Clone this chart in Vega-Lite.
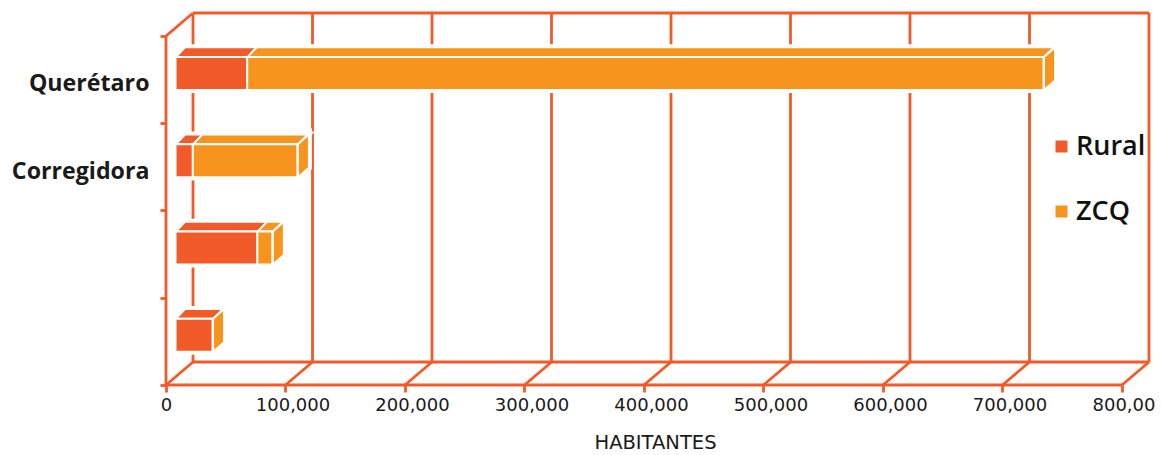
{
"$schema":"https://vega.github.io/schema/vega-lite/v6.json",
"width":983,"height":372,
"autosize":{"type":"none"},
"padding":{"left":166,"top":13,"right":12,"bottom":70},
"background":"white",
"config":{"view":{"stroke":null},"font":"DejaVu Sans"},
"datasets":{
"frame":[
{"id":"ejeY","x":0,"y":0},{"id":"ejeY","x":0,"y":4},
{"id":"suelo","x":0,"y":0},{"id":"suelo","x":800000,"y":0},
{"id":"sueloFondo","x":22600,"y":0.2636},{"id":"sueloFondo","x":822600,"y":0.2636},
{"id":"techo","x":0,"y":4},{"id":"techo","x":22600,"y":4.2636},{"id":"techo2","x":22600,"y":4.2636},{"id":"techo2","x":822600,"y":4.2636},
{"id":"d0","x":0,"y":0},{"id":"d0","x":22600,"y":0.2636},
{"id":"d1","x":100000,"y":0},{"id":"d1","x":122600,"y":0.2636},
{"id":"d2","x":200000,"y":0},{"id":"d2","x":222600,"y":0.2636},
{"id":"d3","x":300000,"y":0},{"id":"d3","x":322600,"y":0.2636},
{"id":"d4","x":400000,"y":0},{"id":"d4","x":422600,"y":0.2636},
{"id":"d5","x":500000,"y":0},{"id":"d5","x":522600,"y":0.2636},
{"id":"d6","x":600000,"y":0},{"id":"d6","x":622600,"y":0.2636},
{"id":"d7","x":700000,"y":0},{"id":"d7","x":722600,"y":0.2636},
{"id":"d8","x":800000,"y":0},{"id":"d8","x":822600,"y":0.2636},
{"id":"g0","x":22600,"y":0.2636},{"id":"g0","x":22600,"y":4.2636},
{"id":"g1","x":122600,"y":0.2636},{"id":"g1","x":122600,"y":4.2636},
{"id":"g2","x":222600,"y":0.2636},{"id":"g2","x":222600,"y":4.2636},
{"id":"g3","x":322600,"y":0.2636},{"id":"g3","x":322600,"y":4.2636},
{"id":"g4","x":422600,"y":0.2636},{"id":"g4","x":422600,"y":4.2636},
{"id":"g5","x":522600,"y":0.2636},{"id":"g5","x":522600,"y":4.2636},
{"id":"g6","x":622600,"y":0.2636},{"id":"g6","x":622600,"y":4.2636},
{"id":"g7","x":722600,"y":0.2636},{"id":"g7","x":722600,"y":4.2636},
{"id":"g8","x":822600,"y":0.2636},{"id":"g8","x":822600,"y":4.2636}
],
"bars":[
{"municipio":"Querétaro","serie":"Rural","inicio":0,"fin":60000,"base":3.38,"alto":3.76},
{"municipio":"Querétaro","serie":"ZCQ","inicio":60000,"fin":726400,"base":3.38,"alto":3.76},
{"municipio":"Corregidora","serie":"Rural","inicio":0,"fin":14500,"base":2.38,"alto":2.76},
{"municipio":"Corregidora","serie":"ZCQ","inicio":14500,"fin":102000,"base":2.38,"alto":2.76},
{"municipio":"Tercero","serie":"Rural","inicio":0,"fin":68500,"base":1.38,"alto":1.76},
{"municipio":"Tercero","serie":"ZCQ","inicio":68500,"fin":81000,"base":1.38,"alto":1.76},
{"municipio":"Cuarto","serie":"Rural","inicio":0,"fin":31000,"base":0.38,"alto":0.76}
],
"tops":[
{"id":"q-r","serie":"Rural","a":8368,"b":68368,"y":3.76},{"id":"q-r","serie":"Rural","a":15900,"b":75900,"y":3.87},
{"id":"q-z","serie":"ZCQ","a":68368,"b":734768,"y":3.76},{"id":"q-z","serie":"ZCQ","a":75900,"b":743000,"y":3.87},
{"id":"c-r","serie":"Rural","a":8368,"b":22868,"y":2.76},{"id":"c-r","serie":"Rural","a":15900,"b":30400,"y":2.87},
{"id":"c-z","serie":"ZCQ","a":22868,"b":110368,"y":2.76},{"id":"c-z","serie":"ZCQ","a":30400,"b":118600,"y":2.87},
{"id":"t-r","serie":"Rural","a":8368,"b":76868,"y":1.76},{"id":"t-r","serie":"Rural","a":15900,"b":84400,"y":1.87},
{"id":"t-z","serie":"ZCQ","a":76868,"b":89368,"y":1.76},{"id":"t-z","serie":"ZCQ","a":84400,"b":97600,"y":1.87},
{"id":"u-r","serie":"Rural","a":8368,"b":39368,"y":0.76},{"id":"u-r","serie":"Rural","a":15900,"b":47600,"y":0.87}
],
"sides":[
{"id":"q","serie":"ZCQ","x":734768,"lo":3.38,"hi":3.76},{"id":"q","serie":"ZCQ","x":744000,"lo":3.49,"hi":3.87},
{"id":"c","serie":"ZCQ","x":110368,"lo":2.38,"hi":2.76},{"id":"c","serie":"ZCQ","x":119600,"lo":2.49,"hi":2.87},
{"id":"t","serie":"ZCQ","x":89368,"lo":1.38,"hi":1.76},{"id":"t","serie":"ZCQ","x":98600,"lo":1.49,"hi":1.87},
{"id":"u","serie":"ZCQ","x":39368,"lo":0.38,"hi":0.76},{"id":"u","serie":"ZCQ","x":48600,"lo":0.49,"hi":0.87}
]
},
"layer":[
{"data":{"name":"frame"},
 "mark":{"type":"line","color":"#F15A29","strokeWidth":2.8,"clip":false},
 "encoding":{
  "x":{"field":"x","type":"quantitative","sort":null,"scale":{"domain":[0,822600],"nice":false,"zero":false},
   "axis":{"values":[0,100000,200000,300000,400000,500000,600000,700000,800000],"title":"HABITANTES","grid":false,"domain":false,"tickColor":"#F15A29","tickWidth":2.8,"tickSize":7,
     "labelExpr":"datum.value==800000?'800,00':format(datum.value,',')","labelFont":"DejaVu Sans","labelFontSize":18,"labelColor":"#1a1a1a","labelOverlap":false,"labelBound":false,"labelFlush":false,"labelPadding":4,
     "labelOffset":{"condition":[{"test":"datum.value==0","value":0},{"test":"datum.value==800000","value":1.5}],"value":7},
     "titleFont":"DejaVu Sans","titleFontSize":19.5,"titleFontWeight":"normal","titleColor":"#1a1a1a","titlePadding":19,"titleX":489}},
  "y":{"field":"y","type":"quantitative","scale":{"domain":[0,4.2636],"nice":false,"zero":false},
   "axis":{"values":[0,1,2,3,4],"title":null,"grid":false,"domain":false,"tickColor":"#F15A29","tickWidth":2.8,"tickSize":6,
     "labelExpr":"datum.value==4?'Querétaro':datum.value==3?'Corregidora':''","labelOffset":48,"labelFont":"Open Sans","labelFontWeight":"bold","labelFontSize":23.2,"labelColor":"#1a1a1a","labelPadding":11,"labelOverlap":false,"labelBound":false,"labelFlush":false,"labelLimit":300}},
  "detail":{"field":"id"}
 }},
{"data":{"name":"tops"},"mark":{"type":"area","orient":"horizontal","fill":"white","stroke":"white","strokeWidth":6},
 "encoding":{"x":{"field":"a","type":"quantitative"},"x2":{"field":"b"},"y":{"field":"y","type":"quantitative"},"detail":{"field":"id"}}},
{"data":{"name":"sides"},"mark":{"type":"area","orient":"vertical","fill":"white","stroke":"white","strokeWidth":6},
 "encoding":{"x":{"field":"x","type":"quantitative"},"y":{"field":"lo","type":"quantitative"},"y2":{"field":"hi"},"detail":{"field":"id"}}},
{"data":{"name":"bars"},"mark":{"type":"rect","fill":"white","stroke":"white","strokeWidth":6,"xOffset":9.5,"x2Offset":9.5},
 "encoding":{"x":{"field":"inicio","type":"quantitative"},"x2":{"field":"fin"},"y":{"field":"base","type":"quantitative"},"y2":{"field":"alto"}}},
{"data":{"name":"tops"},"mark":{"type":"area","orient":"horizontal","stroke":"white","strokeWidth":2},
 "encoding":{"x":{"field":"a","type":"quantitative"},"x2":{"field":"b"},"y":{"field":"y","type":"quantitative"},
  "color":{"field":"serie","type":"nominal"},"detail":{"field":"id"}}},
{"data":{"name":"sides"},"mark":{"type":"area","orient":"vertical","stroke":"white","strokeWidth":2},
 "encoding":{"x":{"field":"x","type":"quantitative"},"y":{"field":"lo","type":"quantitative"},"y2":{"field":"hi"},
  "color":{"field":"serie","type":"nominal"},"detail":{"field":"id"}}},
{"data":{"name":"bars"},"mark":{"type":"rect","stroke":"white","strokeWidth":2,"xOffset":9.5,"x2Offset":9.5},
 "encoding":{"x":{"field":"inicio","type":"quantitative"},"x2":{"field":"fin"},"y":{"field":"base","type":"quantitative"},"y2":{"field":"alto"},
  "color":{"field":"serie","type":"nominal","scale":{"domain":["Rural","ZCQ"],"range":["#F15A29","#F7941D"]},
   "legend":{"title":null,"orient":"none","legendX":882,"legendY":120,"symbolType":"square","symbolSize":144,"symbolStrokeWidth":0,"labelFont":"Open Sans","labelFontSize":27,"labelFontWeight":600,"labelColor":"#111111","rowPadding":37,"labelOffset":1,"padding":0,"labelLimit":200}}}}
]
}
